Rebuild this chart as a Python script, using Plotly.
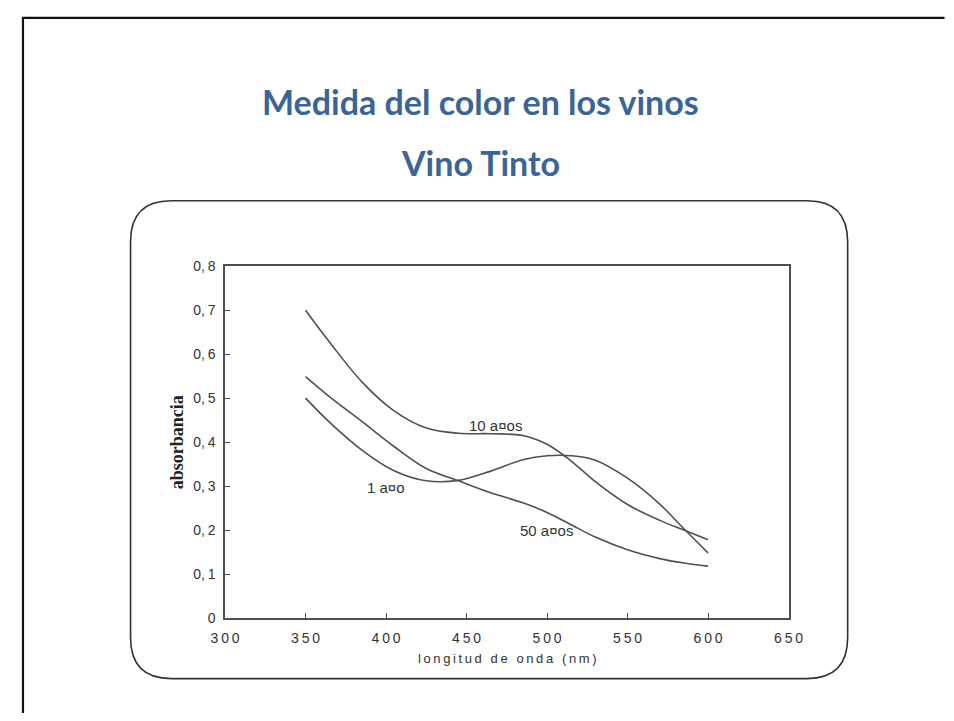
import plotly.graph_objects as go

# ---------------- data ----------------
wavelength = [350, 365, 385, 405, 425, 445, 465, 485, 500, 515, 530, 550, 570, 585, 600]
abs_10_anos = [0.700, 0.627, 0.537, 0.471, 0.432, 0.420, 0.419, 0.415, 0.395, 0.357,
               0.310, 0.258, 0.222, 0.200, 0.178]
abs_1_ano = [0.500, 0.445, 0.382, 0.335, 0.312, 0.313, 0.334, 0.360, 0.369, 0.369,
             0.359, 0.318, 0.259, 0.203, 0.148]
abs_50_anos = [0.549, 0.503, 0.447, 0.390, 0.340, 0.312, 0.285, 0.262, 0.240, 0.212,
               0.184, 0.155, 0.135, 0.125, 0.118]

x_tick_vals = [300, 350, 400, 450, 500, 550, 600, 650]
x_tick_labels = ["300", "350", "400", "450", "500", "550", "600", "650"]
y_tick_vals = [0, 0.1, 0.2, 0.3, 0.4, 0.5, 0.6, 0.7, 0.8]
y_tick_labels = ["0", "0,1", "0,2", "0,3", "0,4", "0,5", "0,6", "0,7", "0,8"]

series_labels = ["10 a¤os", "1 a¤o", "50 a¤os"]
label_x = [468.2, 399.9, 499.6]
label_y = [0.438, 0.297, 0.199]

title_main = "Medida del color en los vinos"
title_sub = "Vino Tinto"
x_title = "longitud de onda (nm)"
y_title = "absorbancia"

# ---------------- layout helpers ----------------
OFF = 8                              # page body margin
W, H = 954 - 2 * OFF, 721 - 2 * OFF  # figure fits the window without overflow


def px(x):
    return (x - OFF) / W


def py(y):
    return 1 - (y - OFF) / H


def spaced(s, sp="\u2009"):
    return sp.join(list(s))


line_col = "#505050"
fig = go.Figure()

for ys in (abs_10_anos, abs_1_ano, abs_50_anos):
    fig.add_trace(go.Scatter(
        x=wavelength, y=ys, mode="lines",
        line=dict(color=line_col, width=1.6, shape="spline", smoothing=1.0),
        showlegend=False, hoverinfo="skip",
    ))

for t, lx, ly in zip(series_labels, label_x, label_y):
    fig.add_annotation(x=lx, y=ly, xref="x", yref="y", text=t, showarrow=False,
                       font=dict(family="Liberation Sans", size=15, color="#333333"))

# plot area in window pixels
L, R, T, B = 217.5, 799, 264, 624

fig.update_layout(
    width=W, height=H, autosize=False,
    margin=dict(l=0, r=0, t=0, b=0),
    paper_bgcolor="white", plot_bgcolor="white",
    xaxis=dict(
        domain=[px(L), px(R)], range=[300, 650],
        tickmode="array", tickvals=x_tick_vals,
        ticktext=[spaced(s) for s in x_tick_labels],
        ticks="inside", ticklen=5, tickcolor=line_col, tickwidth=1.3,
        showline=True, mirror=True, linecolor=line_col, linewidth=1.6,
        showgrid=False, zeroline=False,
        tickfont=dict(family="Liberation Sans", size=14, color="#333333"),
        ticklabelstandoff=6,
    ),
    yaxis=dict(
        domain=[py(B), py(T)], range=[0, 0.8],
        tickmode="array", tickvals=y_tick_vals,
        ticktext=[s.replace(",", ",\u2009") for s in y_tick_labels],
        ticks="inside", ticklen=5, tickcolor=line_col, tickwidth=1.3,
        showline=True, mirror=True, linecolor=line_col, linewidth=1.6,
        showgrid=False, zeroline=False,
        tickfont=dict(family="Liberation Sans", size=14, color="#333333"),
        ticklabelstandoff=5,
    ),
)

# titles
fig.add_annotation(x=px(481), y=py(95), xref="paper", yref="paper", text="<b>%s</b>" % title_main,
                   showarrow=False, font=dict(family="Lato", size=34, color="#3c6494"),
                   xanchor="center", yanchor="middle")
fig.add_annotation(x=px(481), y=py(158), xref="paper", yref="paper", text="<b>%s</b>" % title_sub,
                   showarrow=False, font=dict(family="Lato", size=34, color="#3c6494"),
                   xanchor="center", yanchor="middle")
fig.add_annotation(x=px(509), y=py(665), xref="paper", yref="paper", text=spaced(x_title),
                   showarrow=False, font=dict(family="Liberation Sans", size=13, color="#333333"),
                   xanchor="center", yanchor="middle")
fig.add_annotation(x=px(168), y=py(444), xref="paper", yref="paper", text="<b>%s</b>" % y_title,
                   showarrow=False, textangle=-90,
                   font=dict(family="Liberation Serif", size=18, color="#222222"),
                   xanchor="center", yanchor="middle")

# slide frame (top and left edges)
fig.add_shape(type="line", xref="paper", yref="paper", x0=px(8), x1=px(960), y0=py(10), y1=py(10),
              line=dict(color="#111111", width=2.2))
fig.add_shape(type="line", xref="paper", yref="paper", x0=px(9), x1=px(9), y0=py(9), y1=py(730),
              line=dict(color="#111111", width=2.2))

# rounded frame around the scanned chart
rl, rr, rt, rb = 120, 860, 197, 686
rad = 42
path = (
    f"M {px(rl + rad)},{py(rt)} L {px(rr - rad)},{py(rt)} "
    f"Q {px(rr)},{py(rt)} {px(rr)},{py(rt + rad)} "
    f"L {px(rr)},{py(rb - rad)} Q {px(rr)},{py(rb)} {px(rr - rad)},{py(rb)} "
    f"L {px(rl + rad)},{py(rb)} Q {px(rl)},{py(rb)} {px(rl)},{py(rb - rad)} "
    f"L {px(rl)},{py(rt + rad)} Q {px(rl)},{py(rt)} {px(rl + rad)},{py(rt)} Z"
)
fig.add_shape(type="path", xref="paper", yref="paper", path=path,
              line=dict(color="#333333", width=1.6), layer="below")

fig.write_html("out.html")
